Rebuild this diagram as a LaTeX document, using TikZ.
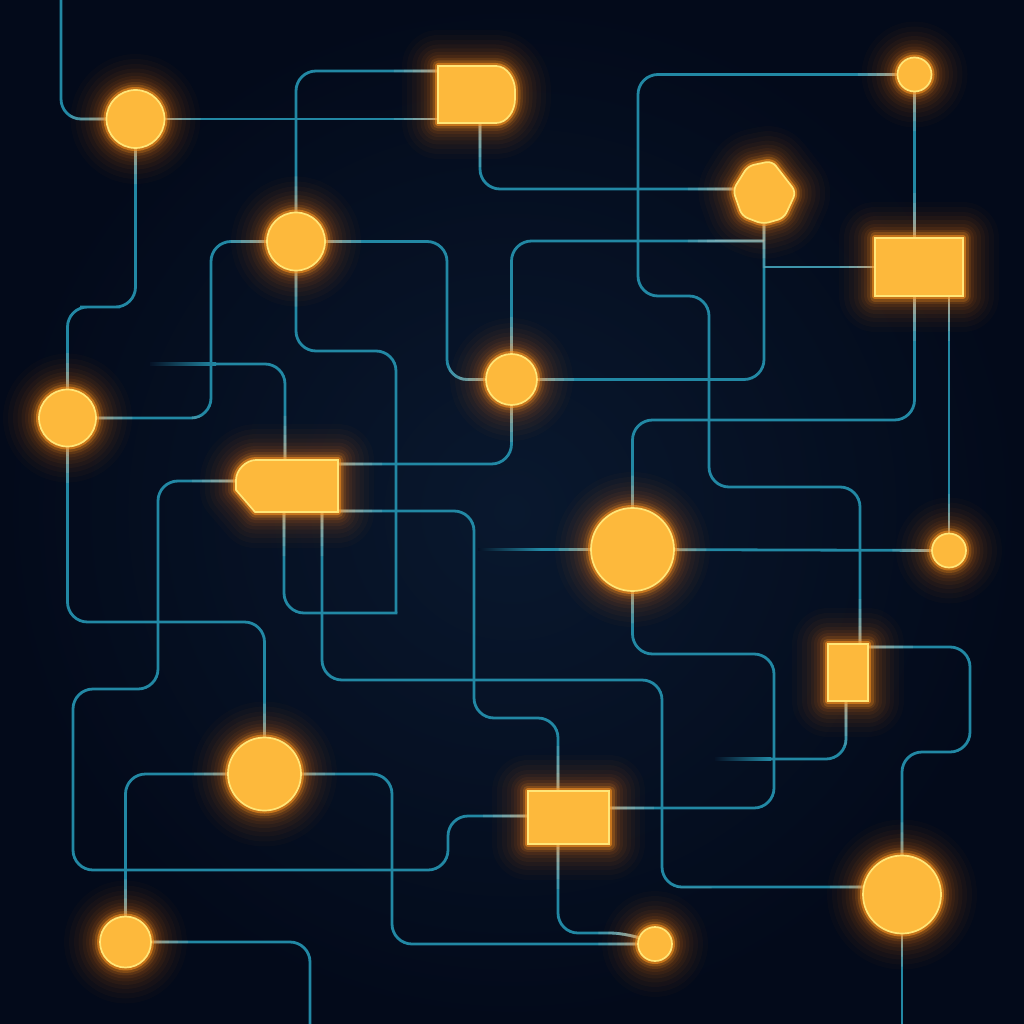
\documentclass[tikz,border=0pt]{standalone}
\usetikzlibrary{calc}
\pgfdeclarelayer{bg}
\pgfdeclarelayer{wires}
\pgfsetlayers{bg,wires,main}

\definecolor{bgin}{RGB}{9,24,46}
\definecolor{bgout}{RGB}{3,10,26}
\definecolor{bgc}{RGB}{6,18,38}
\definecolor{wirec}{RGB}{34,136,164}
\definecolor{palec}{RGB}{205,212,205}
\definecolor{nodefill}{RGB}{253,185,60}
\definecolor{nodeborder}{RGB}{255,230,120}
\definecolor{glowc}{RGB}{255,125,20}
\definecolor{glowhot}{RGB}{255,150,30}

\tikzset{
 glow/.style={
  preaction={draw=glowc,fill=none,line width=72pt,opacity=0.025,line join=round},
  preaction={draw=glowc,fill=none,line width=62pt,opacity=0.03,line join=round},
  preaction={draw=glowc,fill=none,line width=52pt,opacity=0.035,line join=round},
  preaction={draw=glowc,fill=none,line width=43pt,opacity=0.04,line join=round},
  preaction={draw=glowc,fill=none,line width=35pt,opacity=0.05,line join=round},
  preaction={draw=glowc,fill=none,line width=28pt,opacity=0.06,line join=round},
  preaction={draw=glowc,fill=none,line width=22pt,opacity=0.08,line join=round},
  preaction={draw=glowhot,fill=none,line width=16pt,opacity=0.12,line join=round},
  preaction={draw=glowhot,fill=none,line width=11pt,opacity=0.22,line join=round},
  preaction={draw=glowhot,fill=none,line width=6pt,opacity=0.55,line join=round}},
 body/.style={fill=nodefill,draw=nodeborder,line width=1.7pt,glow},
 dot/.style={circle,inner sep=0pt,body},
 box/.style={rectangle,inner sep=0pt,body},
 ghost/.style={rectangle,inner sep=0pt,draw=none,fill=none},
 wire/.style={draw=wirec,line width=2.8pt,rounded corners=20pt},
 paled/.style={draw=palec,line width=2.8pt,rounded corners=20pt},
}

\newcommand\allwires[1]{%
 \draw[#1] (61,0) |- (n1.center);
 \draw[#1] (n1.center) -- (n2.center |- n1.center);
 \draw[#1] (n2.center |- 0,71) -| (n5.center);
 \draw[#1] (n2.center -| 480,0) |- (n4.center |- 0,189);
 \draw[#1] (n1.center) |- (100,307) -| (n8.center);
 \draw[#1] (n5.center) -| (211,330) |- (n8.center);
 \draw[#1] (n5.center) -| (447,330) |- (n7.center);
 \draw[#1] (n5.center) |- (396,351) -- (396,613);
 \draw[#1,line cap=rect] (396,613) -| (284,560) -- (284,486);
 \draw[#1] (214,364) -| (n9.center -| 285,0);
 \draw[#1] (n7.center) |- (n4.center |- 0,241);
 \draw[#1] (n4.center) |- (n7.center);
 \draw[#1] (n4.center |- n6.center) -- (n6.center);
 \draw[#1] (n3.center) -| (638,200) |- (709,296) -- (709,487) -| (n12.center -| 860,0);
 \draw[#1] (n3.center) -- (n3.center |- n6.center);
 \draw[#1] (n3.center |- n6.center) |- (n10.center |- 0,420) -- (n10.center);
 \draw[#1] (n11.center |- n6.center) -- (n11.center);
 \draw[#1] (n10.center) -- (n11.center);
 \draw[#1] (539,549.5) -- (n10.center);
 \draw[#1] (n9.center |- 0,464) -| (n7.center);
 \draw[#1] (n9.center |- 0,511) -| (474,600) |- (558,718) -- (n14.center -| 558,0);
 \draw[#1] (322,486) |- (662,680) |- (n15.center |- 0,887);
 \draw[#1] (n9.center |- 0,481) -| (158,600) |- (73,689) |- (448,870) |- (n14.center |- 0,816);
 \draw[#1] (n8.center) |- (n13.center |- 0,622) -- (n13.center);
 \draw[#1] (n13.center) -| (n16.center);
 \draw[#1] (n13.center) -| (392,900) |- (n17.center);
 \draw[#1] (n16.center) -| (310,1024);
 \draw[#1] (n14.center -| 558,0) |- (630,933) -- (n17.center);
 \draw[#1] (n10.center) |- (774,654) |- (n14.center |- 0,808);
 \draw[#1] (n12.center -| 846,0) |- (769,759);
 \draw[#1] (n12.center |- 0,647) -| (970,700) |- (n15.center |- 0,752) -- (n15.center);
 \draw[#1] (n15.center) -- (n15.center |- 0,1024);
}

\begin{document}
\begin{tikzpicture}[x=1pt,y=-1pt]
\useasboundingbox (0,0) rectangle (1024,1024);
\begin{pgfonlayer}{bg}
 \shade[inner color=bgin,outer color=bgout] (0,0) rectangle (1024,1024);
\end{pgfonlayer}

% nodes
\node[dot,minimum size=58pt] (n1) at (135.5,119) {};
\node[ghost,minimum width=77pt,minimum height=57pt] (n2) at (476.5,94.5) {};
\draw[body] (438,66) -- (496,66) .. controls (507,66) and (515,79) .. (515,90) -- (515,99) .. controls (515,111) and (507,123) .. (496,123) -- (438,123) -- cycle;
\node[dot,minimum size=34pt] (n3) at (914.5,74.5) {};
\node[ghost,minimum width=64pt,minimum height=64pt] (n4) at (764,192) {};
\draw[body,rounded corners=6pt] (748,166) -- (772,161) -- (796,192) -- (784,218) -- (763,224) -- (742,216) -- (733,190) -- cycle;
\node[dot,minimum size=58pt] (n5) at (296,241.5) {};
\node[box,minimum width=88pt,minimum height=58pt] (n6) at (919,267) {};
\node[dot,minimum size=51pt] (n7) at (511.5,379.5) {};
\node[dot,minimum size=57pt] (n8) at (67.5,418) {};
\node[ghost,minimum width=102pt,minimum height=52pt] (n9) at (287,486) {};
\draw[body] (338,460) -- (256,460) .. controls (246,460) and (236,470) .. (236,480) -- (236,490) -- (255,512) -- (338,512) -- cycle;
\node[dot,minimum size=83pt] (n10) at (632.5,549.5) {};
\node[dot,minimum size=34pt] (n11) at (949,550.5) {};
\node[box,minimum width=40pt,minimum height=57pt] (n12) at (848,672.5) {};
\node[dot,minimum size=73pt] (n13) at (264.5,774) {};
\node[box,minimum width=81pt,minimum height=53pt] (n14) at (568.5,817.5) {};
\node[dot,minimum size=78pt] (n15) at (902,894.5) {};
\node[dot,minimum size=51pt] (n16) at (125.5,942) {};
\node[dot,minimum size=34pt] (n17) at (655,944) {};

\begin{pgfonlayer}{wires}
 \allwires{wire}
 \shade[left color=bgc,right color=wirec] (150,362.6) rectangle (216,365.4);
 \shade[left color=bgc,right color=wirec] (478,548.1) rectangle (541,550.9);
 \shade[left color=bgc,right color=wirec] (715,757.6) rectangle (771,760.4);
 \foreach \e in {4,10,17,25,34,44}{
  \begin{scope}
   \clip \foreach \i in {1,...,17}{ ([shift={(-\e pt,-\e pt)}]n\i.south west) rectangle ([shift={(\e pt,\e pt)}]n\i.north east) };
   \allwires{paled,opacity=0.17}
  \end{scope}
 }
\end{pgfonlayer}
\end{tikzpicture}
\end{document}
